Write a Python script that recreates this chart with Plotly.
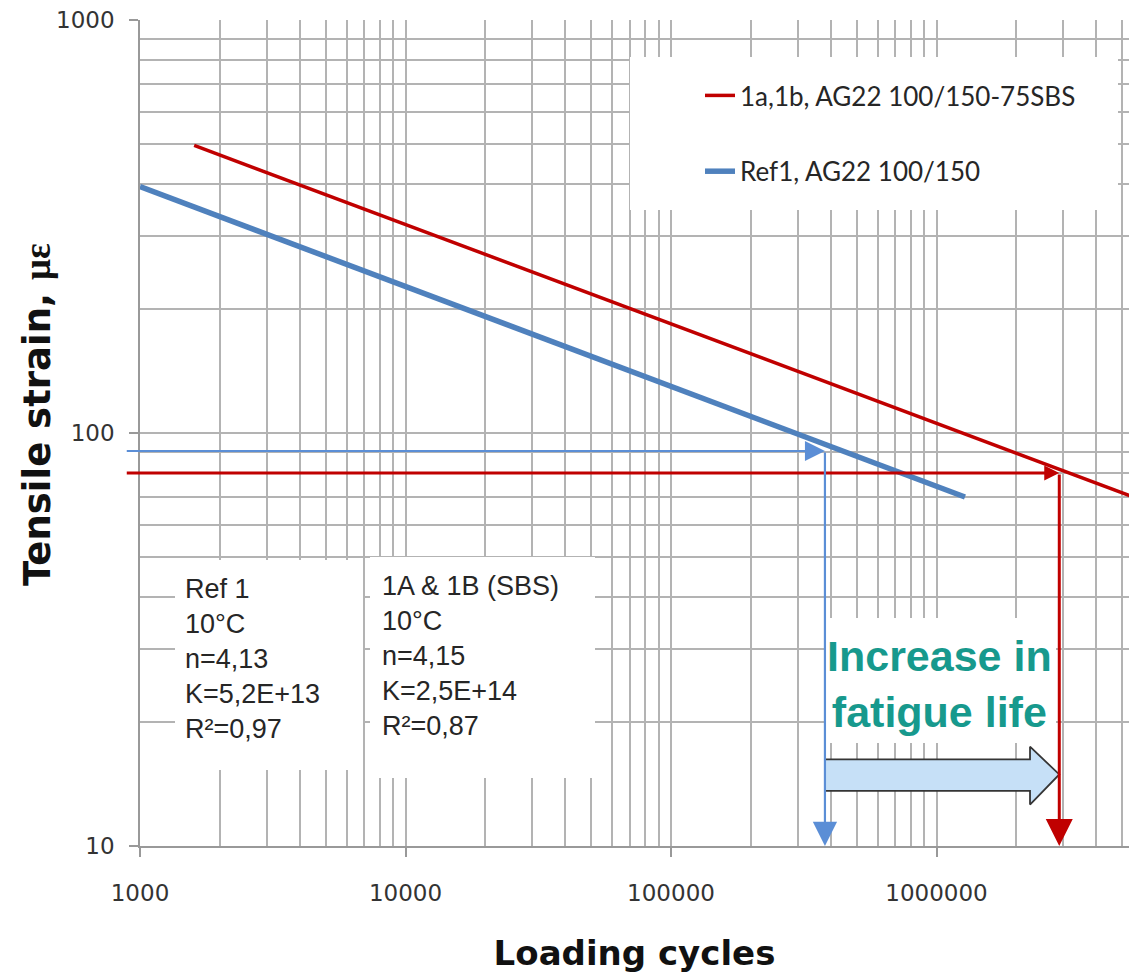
import math
import plotly.graph_objects as go

# ---------------- data ----------------
# fatigue lines (end points)
sbs_N = [1600, 6000000]
sbs_eps = [497, 68.6]
ref_N = [1000, 1280000]
ref_eps = [395, 70.0]

sbs_name = "1a,1b, AG22 100/150-75SBS"
ref_name = "Ref1, AG22 100/150"

# read-off guide lines
ref_cross_N = 380000
ref_cross_eps = 90.5
sbs_cross_N = 2900000
sbs_cross_eps = 80.0
guide_start_N = 880          # guide lines start slightly left of the axis
axis_floor_eps = 10

# block arrow "Increase in fatigue life"
big_arrow_N = [380000, 2250000, 2250000, 2900000, 2250000, 2250000, 380000, 380000]
big_arrow_eps = [16.2, 16.2, 17.4, 14.9, 12.6, 13.6, 13.6, 16.2]

x_tick_vals = [1000, 10000, 100000, 1000000]
x_tick_text = ["1000", "10000", "100000", "1000000"]
y_tick_vals = [10, 100, 1000]
y_tick_text = ["10", "100", "1000"]

ref_box_text = "Ref 1<br>10°C<br>n=4,13<br>K=5,2E+13<br>R²=0,97"
sbs_box_text = "1A & 1B (SBS)<br>10°C<br>n=4,15<br>K=2,5E+14<br>R²=0,87"
increase_text = "Increase in<br>fatigue life"
x_title = "Loading cycles"
y_title = "Tensile strain, "
y_unit = "με"

# ---------------- styles ----------------
RED = "#c00000"
BLUE = "#4f81bd"
BLUE_THIN = "#5b8ed6"
GRID = "#b3b3b3"
TEAL = "#17998d"

W, H = 1129, 973
ML, MR, MT, MB = 140, 0, 20, 127
X_RANGE = [3, 6.725]
Y_RANGE = [1, 3]

def lg(v):
    return math.log10(v)

def px_x(p):
    return (p - ML) / (W - ML - MR)

def px_y(p):
    return (H - MB - p) / (H - MT - MB)

# axis-fraction -> data value (for the white label boxes)
def fx(p):
    return 10 ** (X_RANGE[0] + px_x(p) * (X_RANGE[1] - X_RANGE[0]))

def fy(p):
    return 10 ** (Y_RANGE[0] + px_y(p) * (Y_RANGE[1] - Y_RANGE[0]))

minor_x = [m * 10 ** e for e in range(3, 7) for m in range(2, 10)]
minor_y = [m * 10 ** e for e in range(1, 3) for m in range(2, 10)]

fig = go.Figure()

# white label boxes (cover the grid like the original chart's text boxes)
for (x0, x1, y0, y1) in [(630, 1118, 57, 210), (175, 363, 560, 770),
                         (370, 595, 557, 778), (826, 1056, 618, 743)]:
    fig.add_trace(go.Scatter(
        x=[fx(x0), fx(x1), fx(x1), fx(x0), fx(x0)],
        y=[fy(y0), fy(y0), fy(y1), fy(y1), fy(y0)],
        mode="lines", fill="toself", fillcolor="white",
        line=dict(width=0, color="rgba(0,0,0,0)"),
        showlegend=False, hoverinfo="skip"))

fig.add_trace(go.Scatter(
    x=big_arrow_N, y=big_arrow_eps, mode="lines", fill="toself",
    fillcolor="#c6e0f7", line=dict(color="#353535", width=1.8),
    showlegend=False, hoverinfo="skip"))

fig.add_trace(go.Scatter(
    x=sbs_N, y=sbs_eps, mode="lines", name=sbs_name,
    line=dict(color=RED, width=3.5), legendgroup="a"))
fig.add_trace(go.Scatter(
    x=ref_N, y=ref_eps, mode="lines", name=ref_name,
    line=dict(color=BLUE, width=5.5), legendgroup="b"))

arrow_common = dict(xref="x", yref="y", axref="x", ayref="y", text="",
                    showarrow=True, standoff=0, startstandoff=0)
annotations = [
    dict(x=lg(ref_cross_N), y=lg(ref_cross_eps), ax=lg(guide_start_N), ay=lg(ref_cross_eps),
         arrowhead=2, arrowsize=2, arrowwidth=2, arrowcolor=BLUE_THIN, **arrow_common),
    dict(x=lg(sbs_cross_N), y=lg(sbs_cross_eps), ax=lg(guide_start_N), ay=lg(sbs_cross_eps),
         arrowhead=2, arrowsize=1.0, arrowwidth=3, arrowcolor=RED, **arrow_common),
    dict(x=lg(ref_cross_N), y=lg(axis_floor_eps), ax=lg(ref_cross_N), ay=lg(ref_cross_eps),
         arrowhead=2, arrowsize=2.2, arrowwidth=2.2, arrowcolor=BLUE_THIN, **arrow_common),
    dict(x=lg(sbs_cross_N), y=lg(axis_floor_eps), ax=lg(sbs_cross_N), ay=lg(sbs_cross_eps),
         arrowhead=2, arrowsize=1.8, arrowwidth=3, arrowcolor=RED, **arrow_common),
    dict(xref="paper", yref="paper", x=px_x(183), y=px_y(659), xanchor="left", yanchor="middle",
         text=ref_box_text, showarrow=False, align="left",
         font=dict(family="Liberation Sans", size=27, color="#262626")),
    dict(xref="paper", yref="paper", x=px_x(380), y=px_y(656), xanchor="left", yanchor="middle",
         text=sbs_box_text, showarrow=False, align="left",
         font=dict(family="Liberation Sans", size=27, color="#262626")),
    dict(xref="paper", yref="paper", x=px_x(939), y=px_y(684), xanchor="center", yanchor="middle",
         text="<b>" + increase_text + "</b>", showarrow=False, align="center",
         font=dict(family="Liberation Sans", size=43, color=TEAL)),
    # y-axis title
    dict(xref="paper", yref="paper", x=px_x(37), y=px_y(415), xanchor="center", yanchor="middle",
         textangle=-90, showarrow=False,
         text="<b>" + y_title + "<span style=\"font-family:'Liberation Serif'\">" + y_unit + "</span></b>",
         font=dict(family="DejaVu Sans", size=37, color="#111111")),
]

axis_font = dict(family="DejaVu Sans", size=23, color="#333333")

fig.update_layout(
    width=W, height=H, autosize=False,
    margin=dict(l=ML, r=MR, t=MT, b=MB),
    paper_bgcolor="white", plot_bgcolor="white",
    annotations=annotations,
    hovermode=False,
    legend=dict(x=px_x(700), y=px_y(72), xanchor="left", yanchor="top",
                bgcolor="rgba(0,0,0,0)", tracegroupgap=39,
                font=dict(family="Lato", size=26, color="#262626")),
    xaxis=dict(type="log", range=X_RANGE,
               tickvals=x_tick_vals, ticktext=x_tick_text,
               ticks="outside", ticklen=9, tickcolor="#999999", tickwidth=1.5,
               showgrid=True, gridcolor=GRID, gridwidth=1.6,
               showline=True, linecolor="#999999", linewidth=1.6,
               zeroline=False, tickfont=axis_font, ticklabelstandoff=17,
               minor=dict(tickvals=minor_x, showgrid=True, gridcolor=GRID, gridwidth=1.6, ticks=""),
               title=dict(text="<b>" + x_title + "</b>", standoff=37,
                          font=dict(family="DejaVu Sans", size=34, color="#111111"))),
    yaxis=dict(type="log", range=Y_RANGE,
               tickvals=y_tick_vals, ticktext=y_tick_text,
               ticks="outside", ticklen=9, tickcolor="#999999", tickwidth=1.5,
               showgrid=True, gridcolor=GRID, gridwidth=1.6,
               showline=True, linecolor="#999999", linewidth=1.6,
               zeroline=False, tickfont=axis_font, ticklabelstandoff=10,
               minor=dict(tickvals=minor_y, showgrid=True, gridcolor=GRID, gridwidth=1.6, ticks="")),
)

fig.write_html("out.html")
